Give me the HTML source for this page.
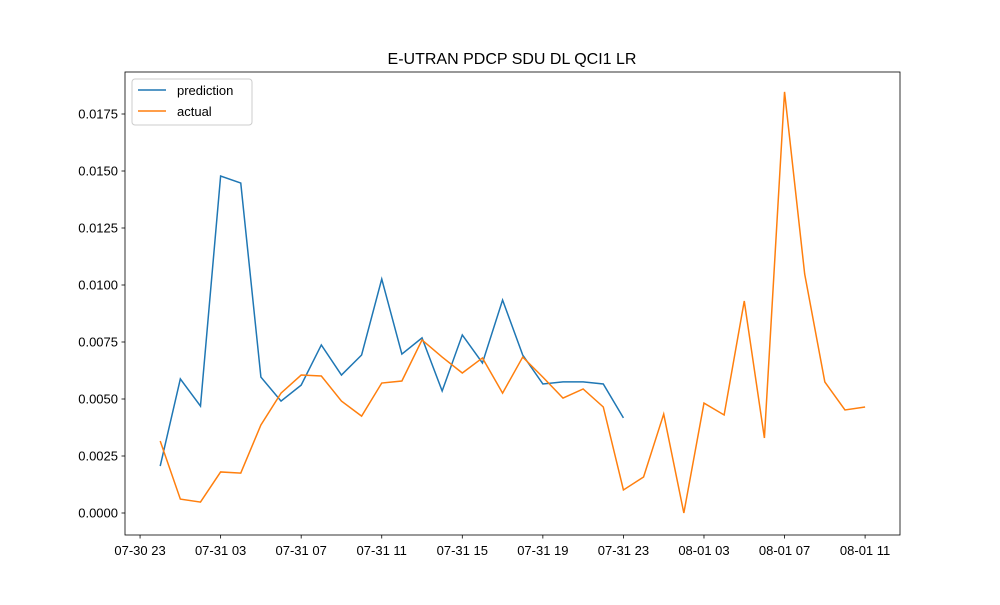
<!DOCTYPE html>
<html><head><meta charset="utf-8"><style>
body{margin:0;background:#fff;}
svg text{font-family:"Liberation Sans","DejaVu Sans",sans-serif;}
</style></head><body>
<svg id="chart" width="1000" height="600" xmlns="http://www.w3.org/2000/svg">
<rect width="1000" height="600" fill="#fff"/>
<text x="512" y="64" font-size="16" text-anchor="middle">E-UTRAN PDCP SDU DL QCI1 LR</text>
<g id="axes"></g>
<g id="series"></g>
<rect x="125" y="72" width="775" height="463" fill="none" stroke="#000" stroke-width="0.8"/>
<g>
<rect x="132" y="79" width="120" height="46" rx="3" fill="#fff" stroke="#ccc"/>
<line x1="138" y1="90" x2="166" y2="90" stroke="#1f77b4" stroke-width="1.5"/>
<text x="177" y="95" font-size="13">prediction</text>
<line x1="138" y1="111" x2="166" y2="111" stroke="#ff7f0e" stroke-width="1.5"/>
<text x="177" y="116" font-size="13">actual</text>
</g>
</svg>
<script>
const prediction=[0.00206,0.00588,0.00469,0.01478,0.01447,0.00596,0.00491,0.00561,0.00737,0.00605,0.00693,0.01026,0.00697,0.00768,0.00535,0.00781,0.00658,0.00934,0.00693,0.00566,0.00575,0.00575,0.00566,0.00417];
const actual=[0.00316,0.00061,0.00048,0.0018,0.00175,0.00386,0.00526,0.00605,0.00601,0.00491,0.00425,0.0057,0.00579,0.00759,0.00684,0.00614,0.0068,0.00526,0.00684,0.00596,0.00504,0.00544,0.00465,0.00101,0.00158,0.00434,0.0,0.00482,0.0043,0.0093,0.00329,0.01847,0.01048,0.00575,0.00452,0.00465];
const yTicks=[0,0.0025,0.005,0.0075,0.01,0.0125,0.015,0.0175];
const xTickLabels=["07-30 23","07-31 03","07-31 07","07-31 11","07-31 15","07-31 19","07-31 23","08-01 03","08-01 07","08-01 11"];
const xTickHours=[-1,3,7,11,15,19,23,27,31,35];
const NS="http://www.w3.org/2000/svg";
function x(h){return 160.2+h*20.14;}
function y(v){return 513-v/0.0025*57;}
const axes=document.getElementById('axes');
function mk(t,a,p){const e=document.createElementNS(NS,t);for(const k in a)e.setAttribute(k,a[k]);p.appendChild(e);return e;}
yTicks.forEach(v=>{
  const t=mk('line',{x1:121.5,x2:125,y1:y(v),y2:y(v),stroke:'#000','stroke-width':0.8},axes);
  
  
  const l=mk('text',{x:118,y:y(v)+4.5,'font-size':13,'text-anchor':'end'},axes);
  l.textContent=v.toFixed(4);
  
  
});
xTickHours.forEach((h,i)=>{
  const t=mk('line',{x1:x(h),x2:x(h),y1:535,y2:538.5,stroke:'#000','stroke-width':0.8},axes);
  
  
  const l=mk('text',{x:x(h),y:555,'font-size':13,'text-anchor':'middle'},axes);
  l.textContent=xTickLabels[i];
  
  
});
const series=document.getElementById('series');
function line(d,c,name){
  const p=mk('polyline',{points:d.map((v,i)=>x(i)+','+y(v)).join(' '),fill:'none',stroke:c,'stroke-width':1.5},series);
  
  
}
line(prediction,'#1f77b4','prediction-line');
line(actual,'#ff7f0e','actual-line');
</script>
</body></html>
